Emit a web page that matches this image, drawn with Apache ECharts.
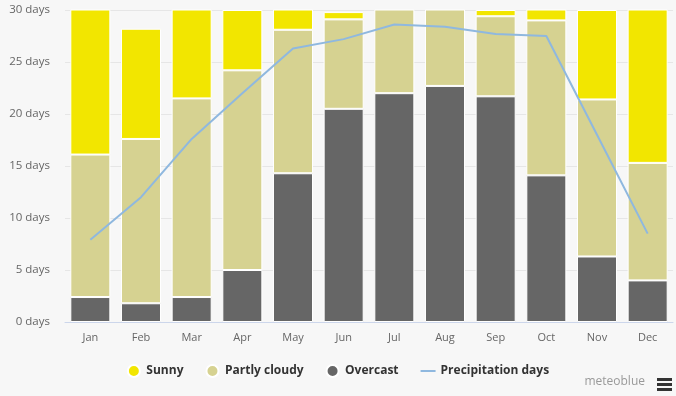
<!DOCTYPE html>
<html>
<head>
<meta charset="utf-8">
<script src="https://cdn.jsdelivr.net/npm/echarts@6/dist/echarts.min.js"></script>
<style>
  html, body { margin: 0; padding: 0; background: #f7f7f7; }
  #chart { width: 676px; height: 396px; }
</style>
</head>
<body>
<div id="chart"></div>
<script>
// months on the x axis
const months = ['Jan', 'Feb', 'Mar', 'Apr', 'May', 'Jun', 'Jul', 'Aug', 'Sep', 'Oct', 'Nov', 'Dec'];
// days per month, stacked bottom -> top
const overcast = [2.4, 1.8, 2.4, 5.0, 14.3, 20.5, 22.0, 22.7, 21.7, 14.1, 6.3, 4.0];
const partlyCloudy = [13.7, 15.8, 19.1, 19.2, 13.8, 8.6, 8.9, 8.2, 7.7, 14.9, 15.1, 11.3];
const sunny = [14.9, 10.6, 9.5, 5.8, 2.9, 0.7, 0.1, 0.1, 0.6, 2.0, 8.6, 15.7];
const precipitationDays = [7.9, 12.0, 17.6, 22.0, 26.3, 27.2, 28.6, 28.4, 27.7, 27.5, 18.0, 8.5];
const yTicks = [0, 5, 10, 15, 20, 25, 30];

const font = '"Open Sans", "DejaVu Sans", sans-serif';
const chart = echarts.init(document.getElementById('chart'));

const barSeries = (name, data, color) => ({
  name,
  type: 'bar',
  stack: 'days',
  data,
  barWidth: '79%',
  itemStyle: { color, borderColor: '#ffffff', borderWidth: 1 },
  emphasis: { disabled: true },
});

chart.setOption({
  backgroundColor: '#f7f7f7',
  animation: false,
  textStyle: { fontFamily: font },
  grid: { left: 65, right: 3, top: 10, bottom: 74 },
  legend: {
    bottom: 13,
    left: 'center',
    itemGap: 22,
    itemWidth: 15,
    itemHeight: 12,
    textStyle: { fontFamily: font, fontSize: 12, fontWeight: 'bold', color: '#333333' },
    data: [
      { name: 'Sunny', icon: 'circle' },
      { name: 'Partly cloudy', icon: 'circle' },
      { name: 'Overcast', icon: 'circle' },
      // plain line, no marker
      { name: 'Precipitation days', icon: 'path://M0,0H15V2H0Z' },
    ],
  },
  xAxis: {
    type: 'category',
    data: months,
    axisLine: { lineStyle: { color: '#ccd6eb' } },
    axisTick: { show: false },
    axisLabel: { color: '#666666', fontSize: 11, margin: 10, fontFamily: font },
  },
  yAxis: {
    type: 'value',
    min: yTicks[0],
    max: yTicks[yTicks.length - 1],
    interval: 5,
    axisLine: { show: false },
    axisTick: { show: false },
    splitLine: { lineStyle: { color: '#e6e6e6' } },
    axisLabel: { color: '#666666', fontSize: 11.5, margin: 15, fontFamily: font, formatter: '{value} days' },
  },
  series: [
    barSeries('Overcast', overcast, '#666666'),
    barSeries('Partly cloudy', partlyCloudy, '#d6d291'),
    barSeries('Sunny', sunny, '#f2e600'),
    {
      name: 'Precipitation days',
      type: 'line',
      data: precipitationDays,
      symbol: 'none',
      lineStyle: { color: '#8fb8df', width: 2 },
      itemStyle: { color: '#8fb8df' },
      z: 5,
    },
  ],
  graphic: [
    {
      type: 'text',
      right: 31,
      top: 376,
      style: { text: 'meteoblue', fill: '#999999', font: '12px ' + font },
    },
    { type: 'rect', left: 657, top: 378, shape: { width: 15, height: 3 }, style: { fill: '#333333' } },
    { type: 'rect', left: 657, top: 383, shape: { width: 15, height: 3 }, style: { fill: '#333333' } },
    { type: 'rect', left: 657, top: 388, shape: { width: 15, height: 3 }, style: { fill: '#333333' } },
  ],
});
</script>
</body>
</html>
